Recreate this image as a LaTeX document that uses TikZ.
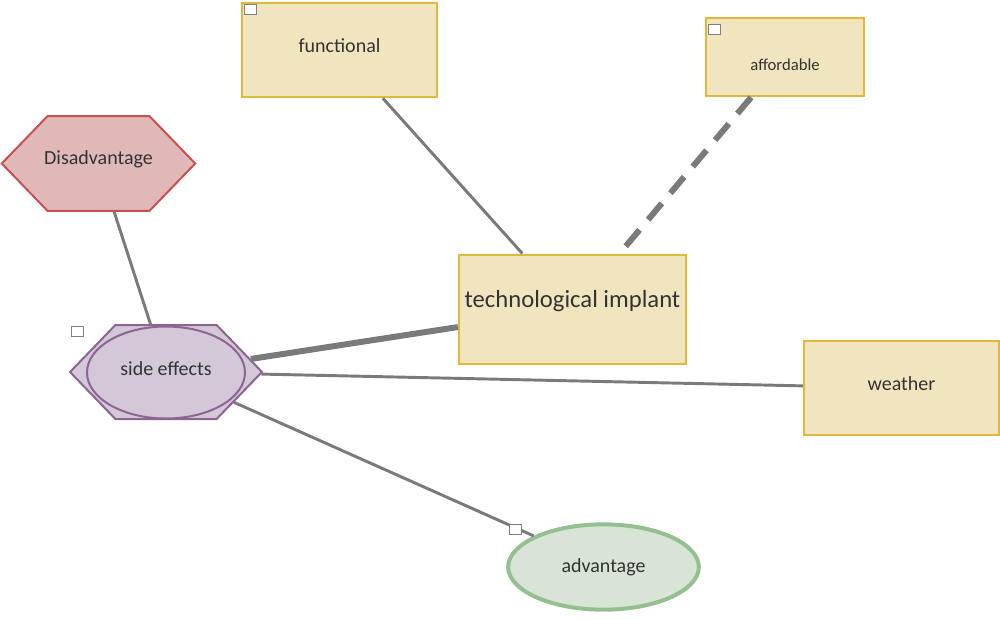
\documentclass[tikz,border=0pt]{standalone}
\usepackage{fontspec}
\setmainfont{Carlito}
\usetikzlibrary{positioning, shapes.geometric, shapes.symbols}

\definecolor{boxfill}{HTML}{F1E5C0}
\definecolor{boxline}{HTML}{E2B83A}
\definecolor{disfill}{HTML}{E0B8B8}
\definecolor{disline}{HTML}{C85050}
\definecolor{sidefill}{HTML}{D2C8D8}
\definecolor{sideline}{HTML}{8E6492}
\definecolor{advfill}{HTML}{D8E4D6}
\definecolor{advline}{HTML}{94C090}
\definecolor{linkgray}{HTML}{7A7A7A}
\definecolor{txt}{HTML}{333333}

\begin{document}
\begin{tikzpicture}[
  x=0.75pt, y=-0.75pt,
  concept/.style={rectangle, draw=boxline, fill=boxfill, line width=1.9pt,
                  align=center, text=txt, font=\fontsize{15}{17}\selectfont},
  hexa/.style={signal, signal to=west and east, signal pointer angle=92,
               line width=1.5pt, inner sep=0pt, text=txt,
               font=\fontsize{15}{17}\selectfont},
  oval/.style={ellipse, inner sep=0pt, text=txt,
               font=\fontsize{15}{17}\selectfont},
  tag/.style={rectangle, draw=gray, fill=white, line width=0.6pt,
              minimum width=9pt, minimum height=7.5pt, inner sep=0pt},
  link/.style={draw=linkgray, line width=2.2pt},
  strong/.style={draw=linkgray, line width=4.5pt},
  weak/.style={draw=linkgray, line width=4.5pt, dash pattern=on 16pt off 10pt},
]
\useasboundingbox (0,0) rectangle (1000,619);

% ---- Konzepte ----
\node[concept, minimum width=146pt, minimum height=70.5pt]
  (functional) at (339.5,50) {\raisebox{3pt}[\height][\depth]{functional}};
\node[concept, minimum width=118.5pt, minimum height=58.5pt,
      font=\fontsize{12.5}{14}\selectfont]
  (affordable) at (785,57) {\raisebox{-6pt}[\height][\depth]{affordable}};
\node[concept, minimum width=170pt, minimum height=82pt,
      font=\fontsize{18.5}{21}\selectfont]
  (implant) at (572.5,309.5) {\raisebox{6.5pt}[\height][\depth]{technological implant}};
\node[concept, minimum width=146pt, minimum height=70.5pt]
  (weather) at (901.5,388) {\raisebox{3pt}[\height][\depth]{weather}};

% ---- Sechsecke ----
\node[hexa, draw=disline, fill=disfill, inner xsep=-2.5pt,
      minimum width=145pt, minimum height=71pt]
  (disadvantage) at (98.5,163.5) {\raisebox{3pt}[\height][\depth]{Disadvantage}};
\node[hexa, draw=sideline, fill=sidefill, minimum width=144pt, minimum height=70.5pt]
  (sidehex) at (166,372) {};
\node[oval, draw=sideline, fill=sidefill, line width=1.5pt,
      minimum width=118.5pt, minimum height=69pt]
  (side) at (166,372.5) {\raisebox{3pt}[\height][\depth]{side effects}};

% ---- Ellipse ----
\node[oval, draw=advline, fill=advfill, line width=3pt,
      minimum width=143pt, minimum height=64pt]
  (advantage) at (603.5,567) {advantage};

% ---- Verbindungen ----
\draw[link]   (functional)   -- (implant);
\draw[weak]   (affordable)   -- (implant);
\draw[link]   (disadvantage) -- (sidehex);
\draw[strong] (sidehex)      -- (implant);
\draw[link]   (sidehex)      -- (weather);
\draw[link]   (sidehex)      -- (advantage);

% ---- Marker ----
\node[tag] (tag-functional) at (250,9.5)  {};
\node[tag] (tag-affordable) at (714,29)   {};
\node[tag] (tag-side)       at (77,331)   {};
\node[tag] (tag-advantage)  at (515,529)  {};

\end{tikzpicture}
\end{document}
